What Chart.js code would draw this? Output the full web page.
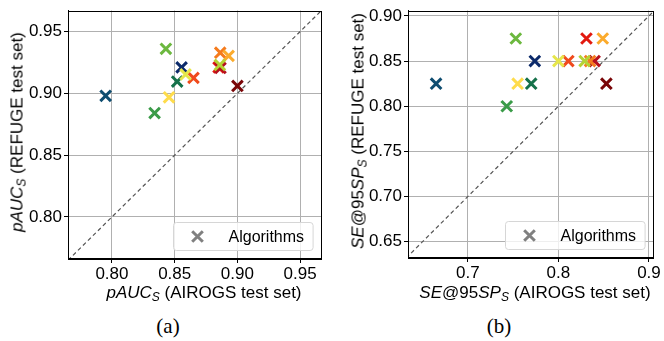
<!DOCTYPE html>
<html>
<head>
<meta charset="utf-8">
<script src="https://cdn.jsdelivr.net/npm/chart.js@4.4.1/dist/chart.umd.min.js"></script>
<style>
  html, body { margin: 0; padding: 0; background: #fff; }
  body { width: 664px; height: 341px; position: relative; overflow: hidden;
         font-family: 'Liberation Sans', Arial, sans-serif; }
  canvas { position: absolute; top: 0; }
  .lbl { position: absolute; font-size: 17px; color: #000; white-space: nowrap;
         transform: translate(-50%, -50%); line-height: 1; }
  .ylbl { transform: translate(-50%, -50%) rotate(-90deg); }
  .lbl sub { font-size: 12px; vertical-align: -3px; line-height: 0; }
  .cap { position: absolute; font-family: 'Liberation Serif', 'Times New Roman', serif;
         font-size: 21px; transform: translate(-50%, -50%); line-height: 1; }
</style>
</head>
<body>
<canvas id="panelA" width="332" height="310" style="left:0"></canvas>
<canvas id="panelB" width="332" height="310" style="left:332px"></canvas>

<div class="lbl ylbl" style="left:17px; top:132px"><i>pAUC<sub>S</sub></i> (REFUGE test set)</div>
<div class="lbl" style="left:204px; top:292px"><i>pAUC<sub>S</sub></i> (AIROGS test set)</div>
<div class="lbl ylbl" style="left:358px; top:131px"><i>SE</i>@95<i>SP<sub>S</sub></i> (REFUGE test set)</div>
<div class="lbl" style="left:535px; top:292px"><i>SE</i>@95<i>SP<sub>S</sub></i> (AIROGS test set)</div>
<div class="cap" style="left:168px; top:326px">(a)</div>
<div class="cap" style="left:499px; top:326px">(b)</div>

<script>
// one entry per algorithm, in plotting order
const algColors = ['#0e4d70', '#0c2a6a', '#15714a', '#3a9b48', '#6cb83f', '#e2190f', '#b5101e',
                   '#7a0608', '#f57b1d', '#fbab2d', '#f04a1c', '#e6e64a', '#fedc4c', '#b5d334'];
const pAucAirogs = [0.795, 0.8555, 0.852, 0.834, 0.843, 0.885, 0.8865,
                    0.900, 0.8863, 0.893, 0.865, 0.8587, 0.8455, 0.886];
const pAucRefuge = [0.898, 0.921, 0.9095, 0.884, 0.936, 0.921, 0.9205,
                    0.906, 0.9329, 0.9303, 0.9125, 0.9153, 0.8968, 0.923];
const seAirogs = [0.665, 0.774, 0.770, 0.743, 0.753, 0.831, 0.840,
                  0.853, 0.835, 0.849, 0.811, 0.800, 0.755, 0.829];
const seRefuge = [0.825, 0.850, 0.825, 0.800, 0.875, 0.875, 0.850,
                  0.825, 0.850, 0.875, 0.850, 0.850, 0.825, 0.850];

const pAucTicks = [0.80, 0.85, 0.90, 0.95];
const seTicksX = [0.7, 0.8, 0.9];
const seTicksY = [0.65, 0.70, 0.75, 0.80, 0.85, 0.90];
const legendLabel = 'Algorithms';

// black frame around the plot area and the matplotlib-style legend box
const framePlugin = {
  id: 'frame',
  afterDatasetsDraw(chart) {
    const { ctx, chartArea: a } = chart;
    ctx.save();
    const l = Math.round(a.left) + 0.5, t = Math.round(a.top) + 0.5;
    const r = Math.round(a.right) - 0.5, b = Math.round(a.bottom) - 0.5;
    ctx.strokeStyle = '#000';
    ctx.lineWidth = 1;
    ctx.strokeRect(l, t, r - l, b - t);

    ctx.font = '16px "Liberation Sans", Arial, sans-serif';
    const tw = ctx.measureText(legendLabel).width;
    const bw = 55 + tw + 9, bh = 28;
    const bx = Math.round(a.right - 9 - bw) + 0.5, by = Math.round(a.bottom - 9 - bh) + 0.5;
    ctx.fillStyle = 'rgba(255,255,255,0.8)';
    ctx.strokeStyle = '#d6d6d6';
    ctx.beginPath();
    ctx.roundRect(bx, by, bw, bh, 3);
    ctx.fill();
    ctx.stroke();

    ctx.strokeStyle = '#808080';
    ctx.lineWidth = 3;
    Chart.helpers.drawPoint(ctx, { pointStyle: 'crossRot', radius: 7.5, borderWidth: 3 }, bx + 24, by + bh / 2);

    ctx.fillStyle = '#000';
    ctx.textBaseline = 'middle';
    ctx.textAlign = 'left';
    ctx.fillText(legendLabel, bx + 55, by + bh / 2 + 1);
    ctx.restore();
  }
};

function makePanel(id, xs, ys, cfg) {
  const pts = xs.map((x, i) => ({ x: x, y: ys[i] }));
  const lo = Math.min(cfg.xMin, cfg.yMin), hi = Math.max(cfg.xMax, cfg.yMax);
  const font = { family: "'Liberation Sans', Arial, sans-serif", size: 17 };

  new Chart(document.getElementById(id), {
    type: 'scatter',
    data: {
      datasets: [{
        data: pts,
        pointStyle: 'crossRot',
        pointRadius: 7.5,
        pointHoverRadius: 7.5,
        pointBorderWidth: 3,
        pointBorderColor: algColors,
        pointBackgroundColor: algColors,
        order: 1,
      }, {
        data: [{ x: lo, y: lo }, { x: hi, y: hi }],
        showLine: true,
        borderColor: '#555555',
        borderWidth: 1.2,
        borderDash: [4, 3],
        pointRadius: 0,
        order: 2,
      }]
    },
    options: {
      animation: false,
      responsive: false,
      events: [],
      layout: { padding: { top: cfg.top, right: cfg.right, left: 0, bottom: 0 } },
      plugins: {
        legend: { display: false },
        tooltip: { enabled: false },
      },
      scales: {
        x: {
          type: 'linear',
          min: cfg.xMin,
          max: cfg.xMax,
          afterBuildTicks: (s) => { s.ticks = cfg.xTicks.map(v => ({ value: v })); },
          afterFit: (s) => { s.height = 310 - cfg.bottom; s.paddingLeft = 0; s.paddingRight = 0; },
          ticks: { callback: v => v.toFixed(cfg.xDec), color: '#000', font: font, padding: 1, maxRotation: 0, autoSkip: false },
          grid: { color: '#b0b0b0', lineWidth: 1, tickColor: '#000', tickLength: 4 },
          border: { color: '#000' },
        },
        y: {
          type: 'linear',
          min: cfg.yMin,
          max: cfg.yMax,
          afterBuildTicks: (s) => { s.ticks = cfg.yTicks.map(v => ({ value: v })); },
          afterFit: (s) => { s.width = cfg.left; s.paddingTop = 0; s.paddingBottom = 0; },
          ticks: { callback: v => v.toFixed(2), color: '#000', font: font, padding: 2, autoSkip: false },
          grid: { color: '#b0b0b0', lineWidth: 1, tickColor: '#000', tickLength: 4 },
          border: { color: '#000' },
        },
      },
    },
    plugins: [framePlugin],
  });
}

makePanel('panelA', pAucAirogs, pAucRefuge, {
  xMin: 0.765, xMax: 0.967, yMin: 0.766, yMax: 0.967,
  xTicks: pAucTicks, yTicks: pAucTicks, xDec: 2,
  left: 68, top: 5, right: 9, bottom: 259,
});

makePanel('panelB', seAirogs, seRefuge, {
  xMin: 0.634, xMax: 0.905, yMin: 0.632, yMax: 0.906,
  xTicks: seTicksX, yTicks: seTicksY, xDec: 1,
  left: 76, top: 10, right: 7, bottom: 258,
});
</script>
</body>
</html>
